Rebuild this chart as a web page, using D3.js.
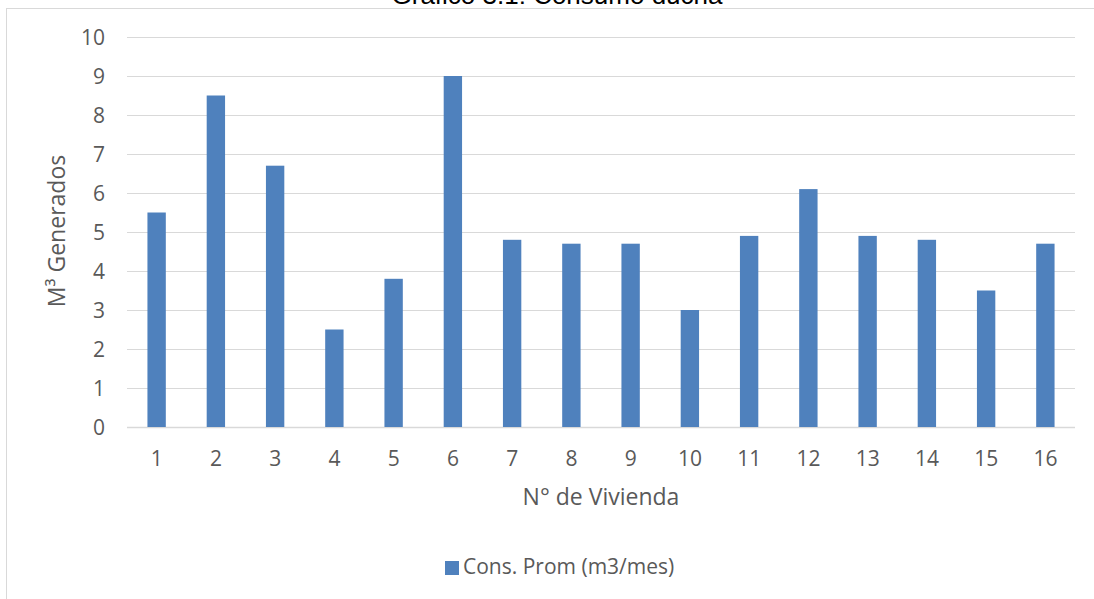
<!DOCTYPE html>
<html>
<head>
<meta charset="utf-8">
<script src="https://cdn.jsdelivr.net/npm/d3@7"></script>
<style>
  body { margin: 0; background: #fff; }
  text { font-family: "Open Sans", sans-serif; fill: #595959; }
</style>
</head>
<body>
<div id="viz"></div>
<script>
const w = 1094;
const h = 599;

// datos
const viviendas = ['1', '2', '3', '4', '5', '6', '7', '8', '9', '10', '11', '12', '13', '14', '15', '16'];
const consumo = [5.5, 8.5, 6.7, 2.5, 3.8, 9.0, 4.8, 4.7, 4.7, 3.0, 4.9, 6.1, 4.9, 4.8, 3.5, 4.7];
const yTicks = [0, 1, 2, 3, 4, 5, 6, 7, 8, 9, 10];
const serieNombre = 'Cons. Prom (m3/mes)';

const margin = {top: 37, right: 19, bottom: 172, left: 127};

const svg = d3.select('#viz').append('svg')
    .attr('width', w)
    .attr('height', h)

// marco del grafico
svg.append('rect')
    .attr('x', 6.5)
    .attr('y', 8.5)
    .attr('width', w + 10)
    .attr('height', h + 10)
    .attr('fill', 'none')
    .attr('stroke', '#d9d9d9')
    .attr('stroke-width', 1)

// titulo (cortado arriba, como en el original)
svg.append('text')
    .attr('x', 557)
    .attr('y', 4)
    .attr('text-anchor', 'middle')
    .style('font-family', '"Liberation Sans", Arial, sans-serif')
    .style('fill', '#000')
    .style('font-size', '26px')
    .text('Gráfico 3.1: Consumo ducha')

const x = d3.scaleBand()
    .domain(viviendas)
    .range([margin.left, w - margin.right])
    .paddingInner(0.69)
    .paddingOuter(0.345)

const y = d3.scaleLinear()
    .domain([0, 10])
    .range([h - margin.bottom, margin.top])

// lineas de cuadricula
svg.append('g')
    .selectAll('line')
    .data(yTicks)
    .join('line')
    .attr('x1', margin.left)
    .attr('x2', w - margin.right)
    .attr('y1', d => Math.round(y(d)) + 0.5)
    .attr('y2', d => Math.round(y(d)) + 0.5)
    .attr('stroke', '#d9d9d9')
    .attr('stroke-width', d => d === 0 ? 1.5 : 1)

// barras
svg.append('g')
    .selectAll('rect')
    .data(consumo)
    .join('rect')
    .attr('x', (d, i) => x(viviendas[i]))
    .attr('y', d => y(d))
    .attr('width', x.bandwidth())
    .attr('height', d => y(0) - y(d))
    .attr('fill', '#4f81bd')

// eje y
const yAxis = svg.append('g')
    .attr('transform', `translate(${margin.left - 22},0)`)
    .call(d3.axisLeft(y).tickValues(yTicks).tickSize(0).tickPadding(0))
yAxis.select('.domain').remove()
yAxis.selectAll('text')
    .attr('dy', '0.36em')
    .style('font-size', '21px')
    .style('fill', '#595959')

// eje x
const xAxis = svg.append('g')
    .attr('transform', `translate(0,${y(0) + 39})`)
    .call(d3.axisBottom(x).tickSize(0).tickPadding(0))
xAxis.select('.domain').remove()
xAxis.selectAll('text')
    .attr('y', 0)
    .attr('dy', 0)
    .style('font-size', '21px')
    .style('fill', '#595959')

// titulos de ejes
svg.append('text')
    .attr('x', 601)
    .attr('y', 505)
    .attr('text-anchor', 'middle')
    .style('font-size', '23px')
    .text('N° de Vivienda')

svg.append('text')
    .attr('transform', `translate(65,231) rotate(-90)`)
    .attr('text-anchor', 'middle')
    .style('font-size', '23px')
    .text('M³ Generados')

// leyenda
const legend = svg.append('g')
    .attr('transform', 'translate(445,561)')
legend.append('rect')
    .attr('width', 14)
    .attr('height', 14)
    .attr('fill', '#4f81bd')
legend.append('text')
    .attr('x', 18)
    .attr('y', 13)
    .style('font-size', '21px')
    .text(serieNombre)
</script>
</body>
</html>
